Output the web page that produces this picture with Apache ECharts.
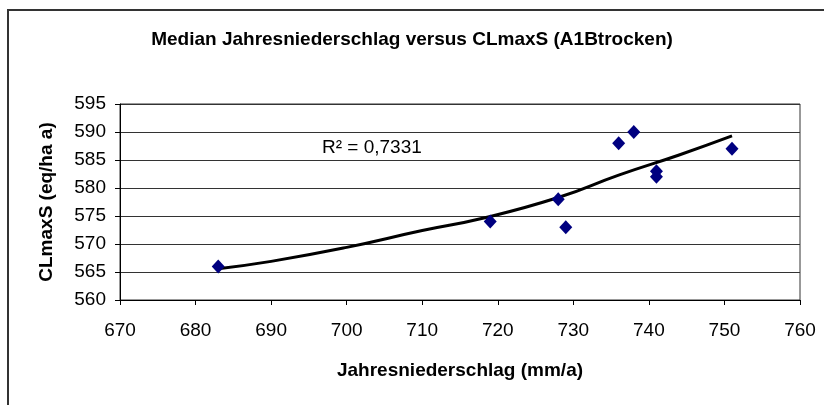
<!DOCTYPE html>
<html>
<head>
<meta charset="utf-8">
<title>Median Jahresniederschlag versus CLmaxS</title>
</head>
<body style="margin:0">
<div id="main" style="width:824px;height:405px;"></div>
<script src="https://cdn.jsdelivr.net/npm/echarts@6/dist/echarts.min.js"></script>
<script>
	// Messpunkte (Jahresniederschlag, CLmaxS)
	var niederschlag = [683, 719, 728, 729, 736, 738, 741, 741, 751];
	var clmaxs = [566, 574, 578, 573, 588, 590, 583, 582, 587];
	// Trendlinie
	var trendX = [683, 690, 700, 710, 718, 728, 736, 744, 751];
	var trendY = [565.6, 566.9, 569.4, 572.4, 574.6, 578.3, 582.3, 585.9, 589.3];
	var r2Text = 'R² = 0,7331';

	var punkte = [];
	for (var i = 0; i < niederschlag.length; i++) {
		punkte.push([niederschlag[i], clmaxs[i]]);
	}
	var trend = [];
	for (var j = 0; j < trendX.length; j++) {
		trend.push([trendX[j], trendY[j]]);
	}

	var myChart = echarts.init(document.getElementById('main'));
	var schrift = 'Liberation Sans, Arial, sans-serif';
	myChart.setOption({
		backgroundColor: '#fff',
		animation: false,
		title: {
			text: 'Median Jahresniederschlag versus CLmaxS (A1Btrocken)',
			left: 'center',
			top: 25,
			textStyle: {fontFamily: schrift, fontSize: 19, fontWeight: 'bold', color: '#000'}
		},
		grid: {
			left: 120, right: 24, top: 104, bottom: 105,
			show: true, borderColor: '#333', borderWidth: 1
		},
		xAxis: {
			type: 'value', min: 670, max: 760, interval: 10,
			name: 'Jahresniederschlag (mm/a)',
			nameLocation: 'middle', nameGap: 61,
			nameTextStyle: {fontFamily: schrift, fontSize: 19, fontWeight: 'bold', color: '#000'},
			axisLine: {lineStyle: {color: '#000', width: 1}},
			axisTick: {show: true, length: 5, lineStyle: {color: '#000'}},
			axisLabel: {fontFamily: schrift, fontSize: 19, color: '#000', margin: 21},
			splitLine: {show: false}
		},
		yAxis: {
			type: 'value', min: 560, max: 595, interval: 5,
			name: 'CLmaxS (eq/ha a)',
			nameLocation: 'middle', nameGap: 64,
			nameTextStyle: {fontFamily: schrift, fontSize: 19, fontWeight: 'bold', color: '#000'},
			axisLine: {show: true, lineStyle: {color: '#000', width: 1}},
			axisTick: {show: true, length: 5, lineStyle: {color: '#000'}},
			axisLabel: {fontFamily: schrift, fontSize: 19, color: '#000', margin: 14},
			splitLine: {show: true, lineStyle: {color: '#333', width: 1}}
		},
		graphic: [
			{type: 'rect', shape: {x: 8, y: 10, width: 900, height: 400},
				style: {fill: 'none', stroke: '#333', lineWidth: 2}, silent: true},
			{type: 'text', left: 322, top: 138,
				style: {text: r2Text, fontFamily: schrift, fontSize: 19, fill: '#000'}}
		],
		series: [
			{
				type: 'line',
				data: trend,
				smooth: true,
				showSymbol: false,
				lineStyle: {color: '#000', width: 3},
				z: 2
			},
			{
				type: 'scatter',
				data: punkte,
				symbol: 'diamond',
				symbolSize: [13, 14],
				itemStyle: {color: '#000080', opacity: 1},
				z: 3
			}
		]
	});
</script>
</body>
</html>
